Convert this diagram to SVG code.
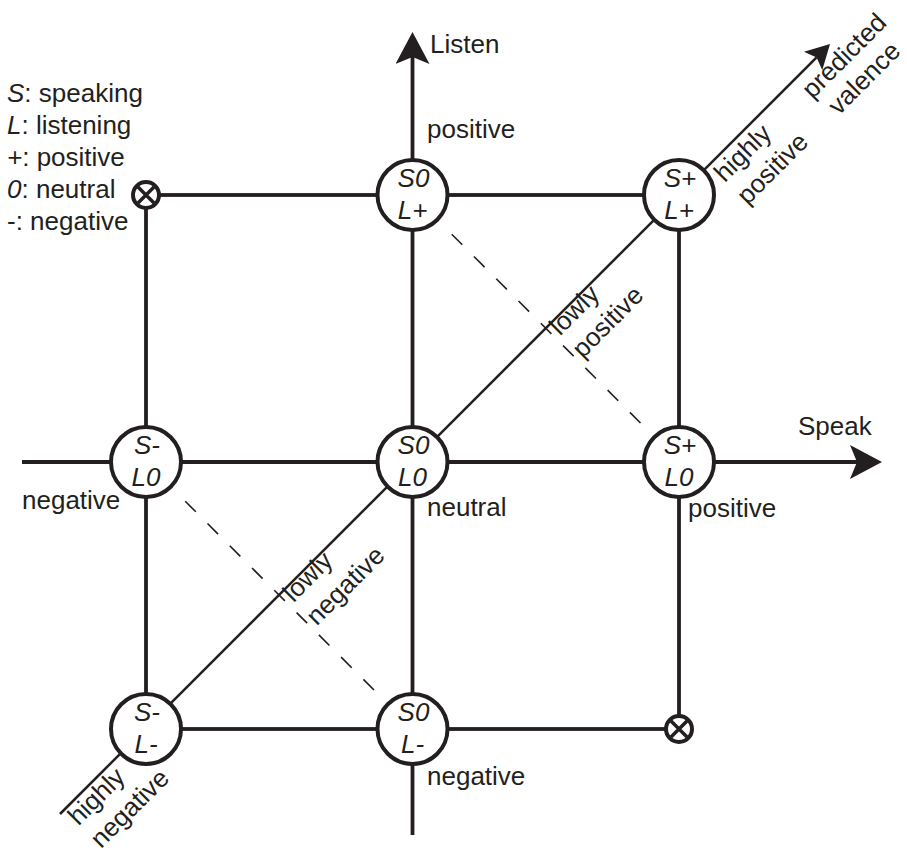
<svg xmlns="http://www.w3.org/2000/svg" width="907" height="852" viewBox="0 0 907 852">
  <style>
    text { font-family: "Liberation Sans", Arial, Helvetica, sans-serif; font-size: 26px; fill: #231f20; }
    .it { font-style: italic; }
    .grid { fill: none; stroke: #231f20; stroke-width: 3.8; }
    .axis { fill: none; stroke: #231f20; stroke-width: 3.8; }
    .diag { fill: none; stroke: #231f20; stroke-width: 2.5; }
    .dash { fill: none; stroke: #231f20; stroke-width: 1.6; stroke-dasharray: 15 16.5; }
    .node circle { fill: #ffffff; stroke: #231f20; stroke-width: 4; }
    .node text { text-anchor: middle; font-style: italic; }
    .xmark circle { fill: #ffffff; stroke: #231f20; stroke-width: 4; }
    .xmark path { fill: none; stroke: #231f20; stroke-width: 3.5; }
  </style>
  <defs>
    <marker id="arrow" viewBox="-7 -17 32 34" refX="0" refY="0" markerWidth="32" markerHeight="34" markerUnits="userSpaceOnUse" orient="auto">
      <path d="M-7,-17 L25,0 L-7,17 L0,0 Z" fill="#231f20"/>
    </marker>
    <marker id="arrow-small" viewBox="-5 -13 24 26" refX="0" refY="0" markerWidth="24" markerHeight="26" markerUnits="userSpaceOnUse" orient="auto">
      <path d="M-5,-13 L19,0 L-5,13 L0,0 Z" fill="#231f20"/>
    </marker>
  </defs>

  <!-- legend -->
  <g id="legend">
    <text x="7" y="102"><tspan class="it">S</tspan>: speaking</text>
    <text x="7" y="134"><tspan class="it">L</tspan>: listening</text>
    <text x="7" y="166"><tspan class="it">+</tspan>: positive</text>
    <text x="7" y="198"><tspan class="it">0</tspan>: neutral</text>
    <text x="7" y="230">-: negative</text>
  </g>

  <!-- connectors: grid, axes, valence diagonal, iso-valence dashes -->
  <g id="connectors">
    <rect class="grid" x="146" y="195" width="533" height="534"/>
    <path class="axis" d="M22,462 H857" marker-end="url(#arrow)"/>
    <path class="axis" d="M412.5,835 V57" marker-end="url(#arrow)"/>
    <path class="diag" d="M60,814 L816.6,57.4" marker-end="url(#arrow-small)"/>
    <path class="dash" d="M451.7,234.2 L640.5,423"/>
    <path class="dash" d="M185.2,501.2 L374,690"/>
  </g>

  <!-- axis and region labels -->
  <g id="labels">
    <text x="430" y="53">Listen</text>
    <text x="798" y="435">Speak</text>
    <text x="427" y="138">positive</text>
    <text x="427" y="516">neutral</text>
    <text x="688" y="517">positive</text>
    <text x="22" y="509">negative</text>
    <text x="427" y="785">negative</text>
    <text transform="rotate(-45)"><tspan x="383" y="642">highly</tspan><tspan x="383" y="674">positive</tspan></text>
    <text transform="rotate(-45)"><tspan x="504" y="645">predicted</tspan><tspan x="511" y="675">valence</tspan></text>
    <text transform="rotate(-45)"><tspan x="158" y="634">lowly</tspan><tspan x="158" y="666">positive</tspan></text>
    <text transform="rotate(-45)"><tspan x="-219" y="634">lowly</tspan><tspan x="-219" y="667">negative</tspan></text>
    <text transform="rotate(-45)"><tspan x="-529" y="640">highly</tspan><tspan x="-529" y="672">negative</tspan></text>
  </g>

  <!-- empty corners -->
  <g id="corner-sminus-lplus" class="xmark" transform="translate(146,195)">
    <circle r="13"/>
    <path d="M-8,-8 L8,8 M-8,8 L8,-8"/>
  </g>
  <g id="corner-splus-lminus" class="xmark" transform="translate(679,729)">
    <circle r="13"/>
    <path d="M-8,-8 L8,8 M-8,8 L8,-8"/>
  </g>

  <!-- state nodes -->
  <g id="node-s0-lplus" class="node" transform="translate(412.5,195)">
    <circle r="35"/>
    <text x="1" y="-8">S0</text>
    <text x="0" y="24">L+</text>
  </g>
  <g id="node-splus-lplus" class="node" transform="translate(679,195)">
    <circle r="35"/>
    <text x="1" y="-8">S+</text>
    <text x="0" y="24">L+</text>
  </g>
  <g id="node-sminus-l0" class="node" transform="translate(146,462)">
    <circle r="35"/>
    <text x="1" y="-8">S-</text>
    <text x="0" y="24">L0</text>
  </g>
  <g id="node-s0-l0" class="node" transform="translate(412.5,462)">
    <circle r="35"/>
    <text x="1" y="-8">S0</text>
    <text x="0" y="24">L0</text>
  </g>
  <g id="node-splus-l0" class="node" transform="translate(679,462)">
    <circle r="35"/>
    <text x="1" y="-8">S+</text>
    <text x="0" y="24">L0</text>
  </g>
  <g id="node-sminus-lminus" class="node" transform="translate(146,729)">
    <circle r="35"/>
    <text x="1" y="-8">S-</text>
    <text x="0" y="24">L-</text>
  </g>
  <g id="node-s0-lminus" class="node" transform="translate(412.5,729)">
    <circle r="35"/>
    <text x="1" y="-8">S0</text>
    <text x="0" y="24">L-</text>
  </g>
</svg>
